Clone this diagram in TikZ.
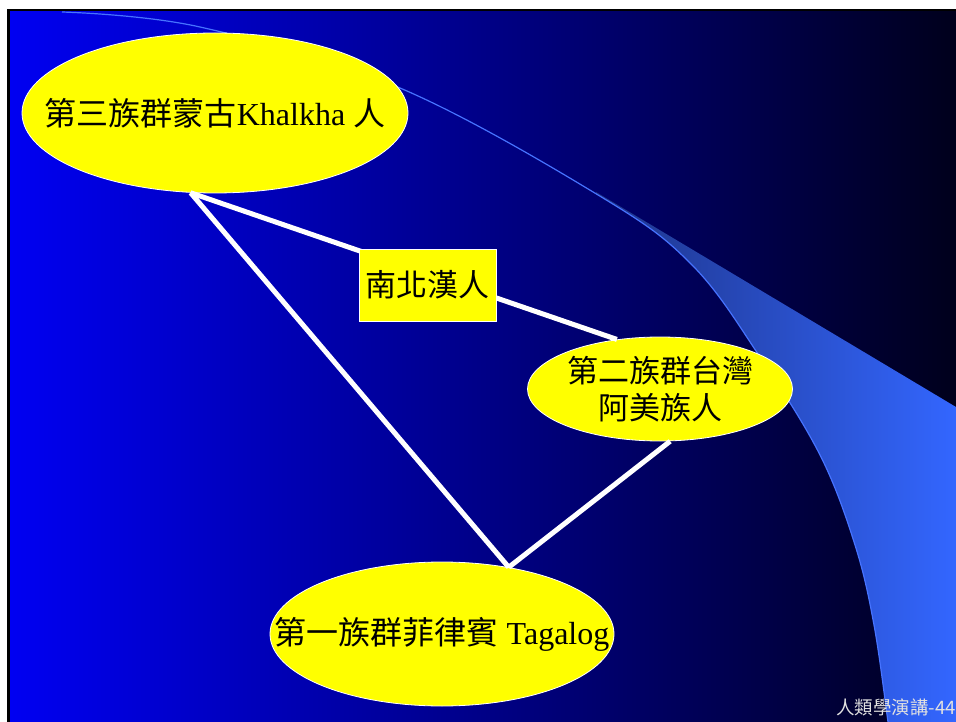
\documentclass[tikz,border=0pt]{standalone}
\usepackage{fontspec}
\setmainfont{Liberation Serif}
\newfontfamily\cjk{Noto Sans CJK TC}
\usetikzlibrary{shapes.geometric}
\definecolor{ylw}{RGB}{255,255,0}
\definecolor{bgL}{RGB}{0,0,242}
\definecolor{bgM}{RGB}{0,0,176}
\definecolor{bgR}{RGB}{0,0,28}
\definecolor{arcc}{RGB}{70,115,255}
\definecolor{crL}{RGB}{30,52,136}
\definecolor{crM}{RGB}{48,94,230}
\definecolor{crR}{RGB}{51,102,255}
\definecolor{footc}{RGB}{225,225,225}
\tikzset{
 ell/.style={ellipse, fill=ylw, draw=white, line width=0.8pt, inner sep=0pt},
 lbl/.style={rectangle, fill=ylw, draw=white, line width=0.8pt, inner sep=0pt, font=\cjk\fontsize{31}{37}\selectfont},
 link/.style={white, line width=5pt},
 big/.style={font=\fontsize{32}{38}\selectfont, inner sep=0pt}
}
\begin{document}
\begin{tikzpicture}[x=1pt,y=-1pt]
\useasboundingbox (0,0) rectangle (956,722);
\fill[white] (0,0) rectangle (956,722);
\fill[black] (7,9) rectangle (956,722);
\shade[left color=bgL, middle color=bgM, right color=bgR] (10,12) rectangle (956,722);
\begin{scope}
\clip (10,12) rectangle (956,722);
\begin{scope}
\clip plot[smooth,tension=0.6] coordinates {(62,12) (200,27) (400,88) (603,198) (693,266) (760,357) (820,455) (855,545) (874,625) (888,722) (889,730)} -- (956,730) -- (956,12) -- cycle;
\shade[left color=crL, middle color=crM, right color=crR] (596,192) -- (956,407) -- (956,722) -- (596,722) -- cycle;
\end{scope}
\draw[arcc, line width=1.2pt] plot[smooth,tension=0.6] coordinates {(62,12) (200,27) (400,88) (603,198) (693,266) (760,357) (820,455) (855,545) (874,625) (888,722) (889,730)};
\end{scope}
\node[ell, minimum width=386pt, minimum height=160pt, label={[big]center:{\cjk 第三族群蒙古}Khalkha {\cjk 人}}] (top) at (215,113) {};
\node[ell, minimum width=265pt, minimum height=104pt, label={[big, align=center, font=\cjk\fontsize{31}{37}\selectfont]center:第二族群台灣\\阿美族人}] (mid) at (660,389) {};
\node[ell, minimum width=344pt, minimum height=144pt, label={[big]center:{\cjk 第一族群菲律賓} Tagalog}] (bot) at (442,634) {};
\draw[link] (top.253) -- (mid.131);
\draw[link] (top.253) -- (bot.45);
\draw[link] (mid.281) -- (bot.45);
\node[lbl, minimum width=137pt, minimum height=72pt] (han) at (427.5,285) {南北漢人};
\node[anchor=base east, inner sep=0pt, text=footc, font=\cjk\fontsize{18.5}{20}\selectfont] (foot) at (956,714) {人類學演講-44};
\end{tikzpicture}
\end{document}
